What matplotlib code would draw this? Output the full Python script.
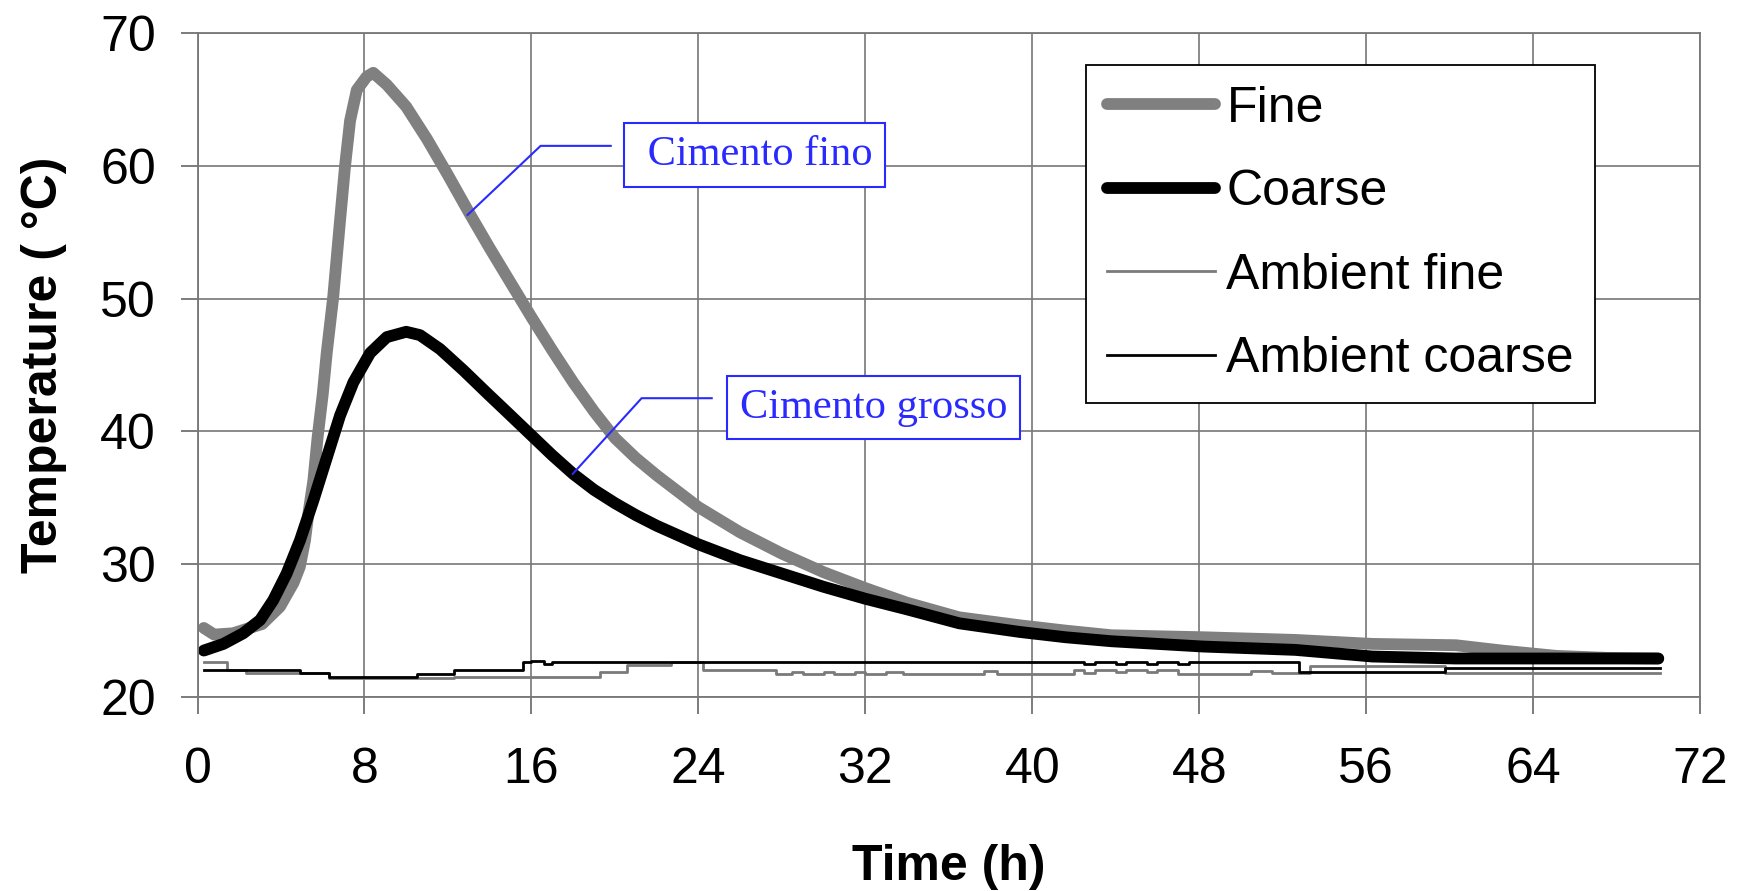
import matplotlib
matplotlib.use('Agg')
import matplotlib.pyplot as plt

# Temperature curves (h, degC)
t_fine = [0.3, 0.8, 1.7, 3.1, 3.95, 4.6, 4.9, 5.15, 5.31, 5.55, 5.75, 6.0, 6.19, 6.5,
          6.83, 7.07, 7.31, 7.63, 8.1, 8.42, 9.07, 10.0, 11.0, 12.0, 13.0, 14.0, 15.0,
          16.0, 17.0, 18.0, 19.0, 20.0, 21.0, 22.0, 24.0, 26.0, 28.0, 30.0, 32.0, 34.0,
          36.5, 39.4, 41.6, 43.8, 48.2, 52.6, 56.3, 60.3, 62.5, 65.1, 67.5, 70.0]
T_fine = [25.2, 24.7, 24.8, 25.5, 26.8, 28.6, 29.8, 31.8, 33.8, 36.3, 39.5, 42.8, 45.9, 50.1,
          55.9, 60.0, 63.4, 65.7, 66.7, 67.0, 66.1, 64.45, 62.0, 59.3, 56.5, 53.8, 51.2,
          48.6, 46.1, 43.7, 41.5, 39.5, 38.0, 36.7, 34.3, 32.4, 30.8, 29.4, 28.2, 27.1,
          26.0, 25.4, 25.0, 24.65, 24.5, 24.3, 24.0, 23.9, 23.5, 23.1, 22.95, 22.9]

t_coarse = [0.3, 1.24, 2.19, 3.0, 3.63, 4.27, 4.91, 5.55, 6.19, 6.83, 7.47, 8.27, 9.07,
            10.0, 10.66, 11.62, 12.74, 13.86, 14.8, 16.0, 17.0, 18.0, 19.0, 20.0, 21.0,
            22.0, 24.0, 26.0, 28.0, 30.0, 32.0, 34.0, 36.5, 39.4, 41.6, 43.8, 48.2, 52.6,
            56.3, 60.3, 65.0, 70.0]
T_coarse = [23.5, 24.0, 24.8, 25.8, 27.3, 29.3, 31.8, 34.8, 38.0, 41.2, 43.7, 45.9, 47.1,
            47.5, 47.25, 46.2, 44.6, 42.9, 41.5, 39.7, 38.2, 36.8, 35.6, 34.6, 33.7,
            32.9, 31.5, 30.3, 29.3, 28.3, 27.4, 26.6, 25.55, 24.9, 24.5, 24.2, 23.8, 23.55,
            23.05, 22.9, 22.9, 22.9]

# ambient temperatures (stepped logger readings)
t_amb_fine = [0.3, 1.4, 2.3, 6.3, 12.3, 19.3, 20.6, 22.7, 24.2, 27.7, 28.5, 29.0, 30.0,
              30.5, 31.5, 32.0, 33.0, 33.8, 37.7, 38.3, 42.0, 42.5, 43.0, 44.0, 44.5,
              45.5, 46.0, 47.0, 50.5, 51.5, 53.3, 59.8, 70.1]
T_amb_fine = [22.65, 22.0, 21.8, 21.45, 21.5, 21.9, 22.4, 22.6, 22.0, 21.75, 21.9, 21.75,
              21.9, 21.75, 21.9, 21.75, 21.9, 21.75, 21.95, 21.75, 22.0, 21.8, 22.05,
              21.85, 22.05, 21.85, 22.0, 21.75, 21.95, 21.8, 22.35, 21.8, 21.8]

t_amb_coarse = [0.3, 4.9, 6.3, 10.5, 12.3, 15.6, 16.0, 16.6, 17.0, 17.5, 42.5, 43.0, 44.0,
                44.5, 45.5, 46.0, 47.0, 47.5, 52.8, 59.8, 70.1]
T_amb_coarse = [22.0, 21.8, 21.5, 21.75, 22.05, 22.6, 22.7, 22.5, 22.65, 22.6, 22.45, 22.6,
                22.45, 22.6, 22.45, 22.6, 22.5, 22.6, 21.85, 22.2, 22.2]

x_ticks = list(range(0, 73, 8))
y_ticks = list(range(20, 71, 10))

plt.rcParams['font.family'] = ['Liberation Sans', 'DejaVu Sans']

fig = plt.figure(figsize=(17.42, 8.91), dpi=100)
ax = fig.add_axes([0.1134, 0.2177, 0.8625, 0.7453])

ax.plot(t_fine, T_fine, color='#808080', lw=8.5, solid_capstyle='round',
        solid_joinstyle='round', label='Fine')
ax.plot(t_coarse, T_coarse, color='black', lw=8.5, solid_capstyle='round',
        solid_joinstyle='round', label='Coarse')
ax.plot(t_amb_fine, T_amb_fine, color='#7a7a7a', lw=2, drawstyle='steps-post', label='Ambient fine')
ax.plot(t_amb_coarse, T_amb_coarse, color='black', lw=2, drawstyle='steps-post', label='Ambient coarse')

ax.set_xlim(0, 72)
ax.set_ylim(20, 70)
ax.set_xticks(x_ticks)
ax.set_yticks(y_ticks)
ax.grid(True, color='#777777', lw=1.2)
ax.set_axisbelow(True)
for s in ax.spines.values():
    s.set_color('#777777')
    s.set_linewidth(1.3)

ax.tick_params(direction='out', length=12, width=1.2, color='#666666', labelsize=36)
ax.tick_params(axis='x', pad=24)
ax.tick_params(axis='y', pad=18)

ax.set_xlabel('Time (h)', fontsize=36, fontweight='bold', va='center')
ax.xaxis.set_label_coords(0.5, -0.256)
ax.set_ylabel('Temperature ( °C)', fontsize=36, fontweight='bold', va='center')
ax.yaxis.set_label_coords(-0.102, 0.5)

leg = ax.legend(loc='upper left', bbox_to_anchor=(0.5913, 0.952), fontsize=36,
                handlelength=2.16, handletextpad=0.23, borderpad=0.42, labelspacing=0.75,
                borderaxespad=0, frameon=True, fancybox=False, framealpha=1)
leg.get_frame().set_edgecolor('black')
leg.get_frame().set_linewidth(1.3)

# callouts
blue = '#2a2aff'
ax.plot([19.8, 16.44, 12.94], [61.5, 61.5, 56.3], color=blue, lw=1.5)
ax.text(26.7, 60.8, ' Cimento fino', color=blue, fontsize=30.5, family='Liberation Serif',
        ha='center', va='center',
        bbox=dict(boxstyle='square,pad=0.3', fc='white', ec=blue, lw=1.5))
ax.plot([24.64, 21.28, 17.98], [42.5, 42.5, 36.8], color=blue, lw=1.5)
ax.text(32.4, 41.8, 'Cimento grosso', color=blue, fontsize=30.5, family='Liberation Serif',
        ha='center', va='center',
        bbox=dict(boxstyle='square,pad=0.3', fc='white', ec=blue, lw=1.5))

fig.savefig('out.png', dpi=100)
